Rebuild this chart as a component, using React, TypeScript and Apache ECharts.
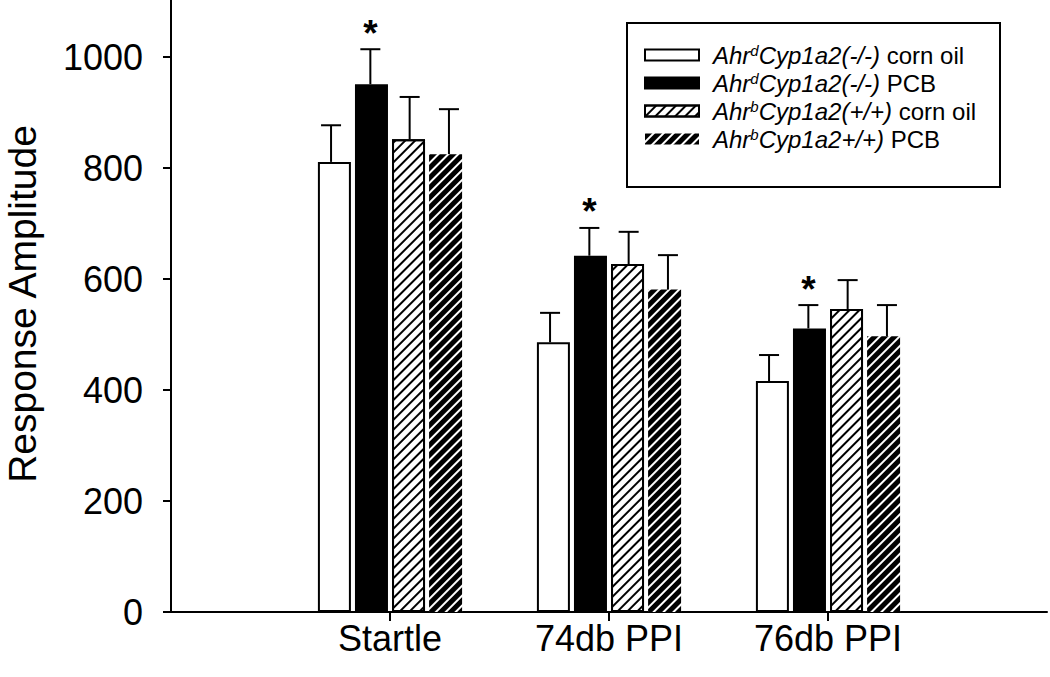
import React, { useEffect, useRef } from "react";
import * as echarts from "echarts";

// ---- data ----
const categories = ["Startle", "74db PPI", "76db PPI"];
const seriesNames = [
  "AhrdCyp1a2(-/-) corn oil",
  "AhrdCyp1a2(-/-) PCB",
  "AhrbCyp1a2(+/+) corn oil",
  "AhrbCyp1a2+/+) PCB",
];
const ahrdCornOil = [811, 486, 416];
const ahrdCornOilErr = [66, 53, 47];
const ahrdPcb = [951, 642, 511];
const ahrdPcbErr = [63, 50, 42];
const ahrbCornOil = [852, 627, 546];
const ahrbCornOilErr = [76, 58, 52];
const ahrbPcb = [825, 581, 497];
const ahrbPcbErr = [81, 62, 56];
const ahrdPcbSignificant = [1, 1, 1];
const noneSignificant = [0, 0, 0];
const yTicks = { min: 0, max: 1000, interval: 200 };
const yAxisTitle = "Response Amplitude";

const FONT = "'Liberation Sans', Arial, Helvetica, sans-serif";

const legendRich: Record<string, string> = {
  [seriesNames[0]]: "{a|Ahr}{s|d}{i|Cyp1a2(-/-)}{n| corn oil}",
  [seriesNames[1]]: "{a|Ahr}{s|d}{i|Cyp1a2(-/-)}{n| PCB}",
  [seriesNames[2]]: "{a|Ahr}{s|b}{i|Cyp1a2(+/+)}{n| corn oil}",
  [seriesNames[3]]: "{a|Ahr}{s|b}{i|Cyp1a2+/+)}{n| PCB}",
};

const BAR_W = 33;
const STEP = 39.3;

export default function App() {
  const ref = useRef<HTMLDivElement>(null);
  useEffect(() => {
    document.body.style.margin = "0";
    if (!ref.current) return;
    const chart = echarts.init(ref.current, undefined, { renderer: "svg" });
    const axisCats = ["", ...categories, ""];
    const pad = (a: number[]) => ["-", ...a, "-"];

    const groups = [
      { name: seriesNames[0], mean: ahrdCornOil, err: ahrdCornOilErr, sig: noneSignificant,
        itemStyle: { color: "#fff", borderColor: "#000", borderWidth: 2 } },
      { name: seriesNames[1], mean: ahrdPcb, err: ahrdPcbErr, sig: ahrdPcbSignificant,
        itemStyle: { color: "#000", borderColor: "#000", borderWidth: 2 } },
      { name: seriesNames[2], mean: ahrbCornOil, err: ahrbCornOilErr, sig: noneSignificant,
        itemStyle: { color: "#fff", borderColor: "#000", borderWidth: 2,
          decal: { symbol: "rect", symbolSize: 1, dashArrayX: [1, 0], dashArrayY: [2, 5],
            rotation: -Math.PI / 4, color: "#000", backgroundColor: "#fff" } } },
      { name: seriesNames[3], mean: ahrbPcb, err: ahrbPcbErr, sig: noneSignificant,
        itemStyle: { color: "#fff", borderWidth: 0,
          decal: { symbol: "rect", symbolSize: 1, dashArrayX: [1, 0], dashArrayY: [5, 2],
            rotation: -Math.PI / 4, color: "#000", backgroundColor: "#fff" } } },
    ];

    const barSeries = groups.map((g) => ({
      type: "bar",
      name: g.name,
      data: pad(g.mean),
      barWidth: BAR_W,
      barGap: ((STEP - BAR_W - 2) / (BAR_W + 2) * 100).toFixed(1) + "%",
      itemStyle: g.itemStyle,
      z: 2,
    }));

    const errSeries = groups.map((g, gi) => ({
      type: "custom",
      name: g.name + " error",
      data: g.mean.map((m, i) => [i + 1, m, g.err[i], g.sig[i]]),
      encode: { x: 0, y: 1 },
      z: 5,
      silent: true,
      renderItem: (params: any, api: any) => {
        const xi = api.value(0);
        const m = api.value(1);
        const e = api.value(2);
        const s = api.value(3);
        const p0 = api.coord([xi, m]);
        const p1 = api.coord([xi, m + e]);
        const cx = p0[0] + (gi - 1.5) * STEP;
        const children: any[] = [
          { type: "line", shape: { x1: cx, y1: p0[1], x2: cx, y2: p1[1] },
            style: { stroke: "#000", lineWidth: 2 } },
          { type: "line", shape: { x1: cx - 10, y1: p1[1], x2: cx + 10, y2: p1[1] },
            style: { stroke: "#000", lineWidth: 2 } },
        ];
        if (s) {
          children.push({
            type: "text",
            x: cx,
            y: p1[1] - 16,
            style: { text: "*", fontSize: 37, fontWeight: "bold", fontFamily: FONT, fill: "#000",
              align: "center", verticalAlign: "middle" },
          });
        }
        return { type: "group", children };
      },
    }));

    chart.setOption({
      animation: false,
      backgroundColor: "#fff",
      grid: { left: 171, right: 2, top: 57, bottom: 65, containLabel: false },
      legend: {
        data: seriesNames,
        orient: "vertical",
        left: 644,
        top: 43,
        padding: 0,
        itemGap: 4,
        itemWidth: 54,
        itemHeight: 11,
        icon: "rect",
        selectedMode: false,
        formatter: (name: string) => legendRich[name] || name,
        textStyle: {
          color: "#000",
          fontFamily: FONT,
          fontSize: 24,
          lineHeight: 24,
          rich: {
            a: { fontSize: 24, fontStyle: "italic", fontFamily: FONT, color: "#000", padding: [0, 0, 0, 9], lineHeight: 24 },
            s: { fontSize: 15, fontStyle: "italic", fontFamily: FONT, color: "#000", verticalAlign: "top", lineHeight: 16 },
            i: { fontSize: 24, fontStyle: "italic", fontFamily: FONT, color: "#000", lineHeight: 24 },
            n: { fontSize: 24, fontFamily: FONT, color: "#000", lineHeight: 24 },
          },
        },
      },
      xAxis: {
        type: "category",
        data: axisCats,
        boundaryGap: false,
        axisLine: { show: true, lineStyle: { color: "#000", width: 2 } },
        axisTick: { show: true, length: 9, lineStyle: { color: "#000", width: 2 },
          interval: (idx: number) => idx > 0 && idx < axisCats.length - 1 },
        axisLabel: { interval: 0, color: "#000", fontSize: 36, fontFamily: FONT, margin: 8 },
        splitLine: { show: false },
      },
      yAxis: {
        type: "value",
        min: yTicks.min,
        max: yTicks.max,
        interval: yTicks.interval,
        axisLine: { show: true, lineStyle: { color: "#000", width: 2 } },
        axisTick: { show: true, length: 8, lineStyle: { color: "#000", width: 2 } },
        axisLabel: { color: "#000", fontSize: 36, fontFamily: FONT, margin: 28,
          formatter: (v: number) => String(v) },
        splitLine: { show: false },
      },
      graphic: [
        { type: "line", shape: { x1: 171, y1: 0, x2: 171, y2: 57 },
          style: { stroke: "#000", lineWidth: 2 }, z: 10 },
        { type: "rect", shape: { x: 627, y: 23, width: 373, height: 164 },
          style: { fill: "#fff", stroke: "#000", lineWidth: 2 }, z: 0 },
        { type: "text", x: 22, y: 304, rotation: Math.PI / 2,
          style: { text: yAxisTitle, fontSize: 39, fontFamily: FONT, fill: "#000",
            align: "center", verticalAlign: "middle" } },
      ],
      series: [...barSeries, ...errSeries],
    });
    return () => chart.dispose();
  }, []);
  return <div ref={ref} style={{ width: 1050, height: 677 }} />;
}
